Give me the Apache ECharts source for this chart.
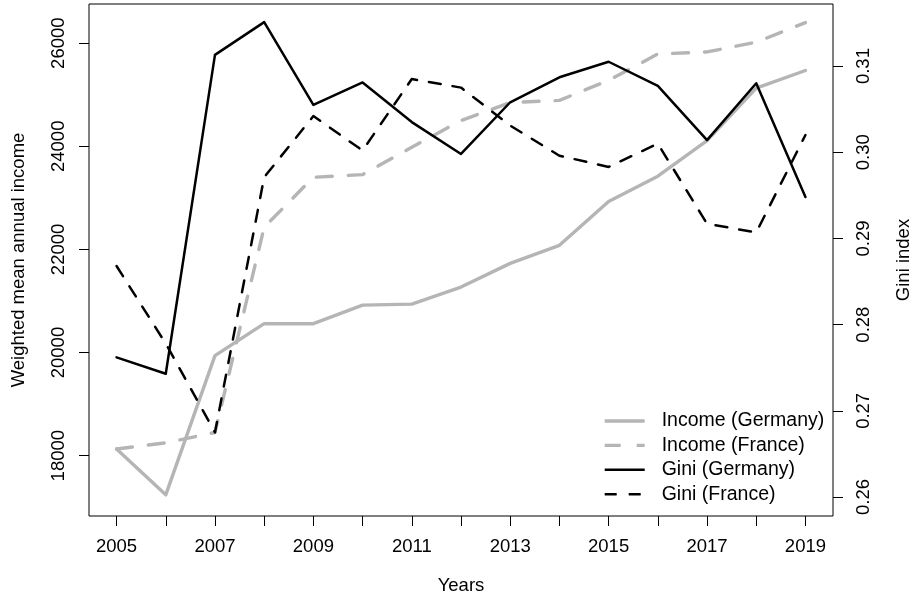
<!DOCTYPE html>
<html><head><meta charset="utf-8">
<script src="https://cdn.jsdelivr.net/npm/echarts@6/dist/echarts.min.js"></script>
<style>html,body{margin:0;padding:0;background:#fff}#c{width:914px;height:602px}</style>
</head><body><div id="c"></div>
<script>
const years = [2005, 2006, 2007, 2008, 2009, 2010, 2011, 2012, 2013, 2014, 2015, 2016, 2017, 2018, 2019];
const yearLabels = [2005, 2007, 2009, 2011, 2013, 2015, 2017, 2019];
const incomeGermany = [18130, 17240, 19940, 20560, 20560, 20920, 20940, 21270, 21730, 22080, 22930, 23420, 24110, 25130, 25470];
const incomeFrance  = [18130, 18250, 18450, 22430, 23400, 23450, 23980, 24500, 24850, 24890, 25280, 25790, 25830, 26020, 26400];
const giniGermany = [0.2762, 0.2743, 0.3113, 0.3151, 0.3055, 0.3081, 0.3035, 0.2998, 0.3058, 0.3087, 0.3105, 0.3077, 0.3014, 0.3080, 0.2948];
const giniFrance  = [0.2868, 0.2778, 0.2675, 0.2971, 0.3042, 0.3002, 0.3085, 0.3075, 0.3031, 0.2996, 0.2983, 0.3010, 0.2917, 0.2907, 0.3020];
const incomeTicks = [18000, 20000, 22000, 24000, 26000];
const giniTicks = [0.26, 0.27, 0.28, 0.29, 0.30, 0.31];
const seriesNames = ['Income (Germany)', 'Income (France)', 'Gini (Germany)', 'Gini (France)'];

const FONT = 'Liberation Sans, Arial, Helvetica, sans-serif';
const FS = 18.5;
const GRAY = '#b5b5b5';
const GRAY_W = 3.4, BLACK_W = 2.5;
const pairs = (vals) => years.map((y, i) => [y, vals[i]]);

const chart = echarts.init(document.getElementById('c'), null, {renderer: 'canvas'});
const txt = {color: '#000', fontFamily: FONT, fontSize: FS};
const legendWidths = [GRAY_W, GRAY_W, BLACK_W, BLACK_W];
chart.setOption({
  animation: false,
  backgroundColor: '#fff',
  grid: {left: 89, top: 4, right: 81, bottom: 86, containLabel: false, outerBoundsMode: 'none',
         show: true, borderColor: '#000', borderWidth: 1, backgroundColor: 'transparent'},
  legend: {
    orient: 'vertical', left: 603, top: 411, padding: 0, itemGap: 4.4,
    itemWidth: 40, itemHeight: 14,
    itemStyle: {opacity: 0},
    textStyle: {padding: [0, 0, 0, 12], fontSize: 19.5, color: '#000', fontFamily: FONT},
    data: seriesNames.map((n, i) => ({name: n, lineStyle: {width: legendWidths[i], cap: 'butt'}}))
  },
  xAxis: {
    type: 'value', min: 2004.44, max: 2019.56,
    axisLine: {show: false},
    axisTick: {show: true, length: 10, customValues: years, lineStyle: {color: '#000', width: 1}},
    axisLabel: Object.assign({customValues: yearLabels, margin: 21, formatter: v => String(v)}, txt),
    splitLine: {show: false},
    name: 'Years', nameLocation: 'middle', nameGap: 60, nameTextStyle: txt
  },
  yAxis: [{
    type: 'value', min: 16830, max: 26760, position: 'left',
    axisLine: {show: false},
    axisTick: {show: true, length: 10, customValues: incomeTicks, lineStyle: {color: '#000', width: 1}},
    axisLabel: Object.assign({customValues: incomeTicks, rotate: 90, margin: 21, formatter: v => String(v)}, txt),
    splitLine: {show: false},
    name: 'Weighted mean annual income', nameLocation: 'middle', nameGap: 61, nameRotate: 90, nameTextStyle: txt
  }, {
    type: 'value', min: 0.2578, max: 0.3172, position: 'right',
    axisLine: {show: false},
    axisTick: {show: true, length: 10, customValues: giniTicks, lineStyle: {color: '#000', width: 1}},
    axisLabel: Object.assign({customValues: giniTicks, rotate: 90, margin: 21, formatter: v => v.toFixed(2)}, txt),
    splitLine: {show: false},
    name: 'Gini index', nameLocation: 'middle', nameGap: 61, nameRotate: 90, nameTextStyle: txt
  }],
  series: [
    {name: seriesNames[0], type: 'line', yAxisIndex: 0, data: pairs(incomeGermany), symbol: 'none',
     lineStyle: {color: GRAY, width: GRAY_W, type: 'solid', cap: 'round', join: 'round'}, itemStyle: {color: GRAY}},
    {name: seriesNames[1], type: 'line', yAxisIndex: 0, data: pairs(incomeFrance), symbol: 'none',
     lineStyle: {color: GRAY, width: GRAY_W, type: [16, 16], cap: 'round', join: 'round'}, itemStyle: {color: GRAY}},
    {name: seriesNames[2], type: 'line', yAxisIndex: 1, data: pairs(giniGermany), symbol: 'none',
     lineStyle: {color: '#000', width: BLACK_W, type: 'solid', cap: 'round', join: 'round'}, itemStyle: {color: '#000'}},
    {name: seriesNames[3], type: 'line', yAxisIndex: 1, data: pairs(giniFrance), symbol: 'none',
     lineStyle: {color: '#000', width: BLACK_W, type: [12, 12], cap: 'round', join: 'round'}, itemStyle: {color: '#000'}}
  ]
});
</script>
</body></html>
